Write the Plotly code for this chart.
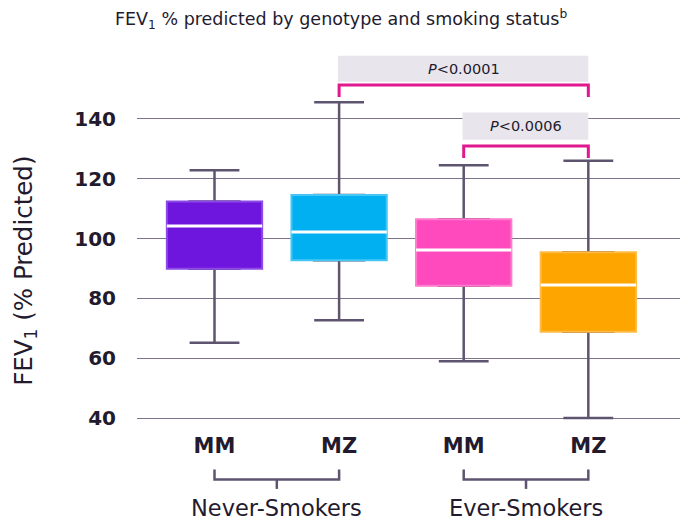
import plotly.graph_objects as go

# ---- data ----
positions = [0, 1, 2, 3]
genotypes = ["MM", "MZ", "MM", "MZ"]
groups = ["Never-Smokers", "Ever-Smokers"]
q1 = [89.9, 92.7, 84.2, 68.8]
median = [104.2, 102.2, 96.2, 84.5]
q3 = [112.4, 114.5, 106.4, 95.4]
lowerfence = [65.2, 72.7, 59.0, 40.0]
upperfence = [122.8, 145.5, 124.5, 126.0]
box_colors = ["#6F16DE", "#00B0F0", "#FF4ABE", "#FFA500"]
edge_colors = ["#8C4AE6", "#47C6F5", "#FF7ACD", "#FFBB47"]
y_ticks = [40, 60, 80, 100, 120, 140]
comparisons = [  # (from, to, label, bracket line, bracket end, box bottom, box top)
    (1, 3, "<i>P</i><0.0001", 151.3, 147.3, 152.4, 161.1),
    (2, 3, "<i>P</i><0.0006", 130.9, 126.9, 133.0, 142.1),
]

DARK = "#231A2E"
WHISK = "#5F5470"
FONT = "DejaVu Sans"

fig = go.Figure()

# whiskers + caps
fig.add_trace(go.Box(
    x=positions, q1=q1, median=median, q3=q3,
    lowerfence=lowerfence, upperfence=upperfence,
    width=0.40, whiskerwidth=1,
    line=dict(color=WHISK, width=2.5), fillcolor=WHISK,
    boxpoints=False, hoverinfo="skip", showlegend=False))

# coloured boxes
for i, p in enumerate(positions):
    fig.add_trace(go.Box(
        x=[p], q1=[q1[i]], median=[median[i]], q3=[q3[i]],
        lowerfence=[q1[i]], upperfence=[q3[i]],
        width=0.765, whiskerwidth=0,
        line=dict(color=edge_colors[i], width=2), fillcolor=box_colors[i],
        boxpoints=False, hoverinfo="skip", showlegend=False))

# white medians
fig.add_trace(go.Box(
    x=positions, q1=median, median=median, q3=median,
    lowerfence=median, upperfence=median,
    width=0.765, whiskerwidth=0,
    line=dict(color="white", width=3), fillcolor="white",
    boxpoints=False, hoverinfo="skip", showlegend=False))

shapes = []
annotations = []
for a, b, label, yl, ye, r0, r1 in comparisons:
    shapes.append(dict(type="rect", xref="x", yref="y", x0=a - 0.01, x1=b, y0=r0, y1=r1,
                       fillcolor="#E8E6EC", line=dict(width=0), layer="above"))
    shapes.append(dict(type="path", xref="x", yref="y",
                       path=f"M {a},{ye} L {a},{yl} L {b},{yl} L {b},{ye}",
                       line=dict(color="#E0178D", width=3)))
    annotations.append(dict(x=(a + b) / 2, y=(r0 + r1) / 2, xref="x", yref="y",
                            text=label, showarrow=False,
                            font=dict(family=FONT, size=14.5, color=DARK)))

# group brackets under the axis
for gi, g in enumerate(groups):
    a, b = positions[2 * gi], positions[2 * gi + 1]
    shapes.append(dict(type="path", xref="x", yref="paper",
                       path=f"M {a},-0.0955 L {a},-0.1215 L {b},-0.1215 L {b},-0.0955",
                       line=dict(color=WHISK, width=2.5)))
    shapes.append(dict(type="line", xref="x", yref="paper", x0=(a + b) / 2, x1=(a + b) / 2,
                       y0=-0.1215, y1=-0.146, line=dict(color=WHISK, width=2.5)))
    annotations.append(dict(x=(a + b) / 2, y=-0.197, xref="x", yref="paper",
                            text=g, showarrow=False, yanchor="middle",
                            font=dict(family=FONT, size=22.5, color=DARK)))

# y-axis title
annotations.append(dict(x=(25 - 137) / 551, y=0.4236, xref="paper", yref="paper",
                        text="FEV<sub>1</sub> (% Predicted)", textangle=-90,
                        showarrow=False, xanchor="center", yanchor="middle",
                        font=dict(family=FONT, size=24.5, color=DARK)))
# chart title
annotations.append(dict(x=(341 - 137) / 551, y=(433.4 - 19) / 383.4,
                        xref="paper", yref="paper",
                        text="FEV<sub>1</sub> % predicted by genotype and smoking status<sup>b</sup>",
                        showarrow=False, xanchor="center", yanchor="middle",
                        font=dict(family=FONT, size=17.5, color=DARK)))

# page body has an 8px margin: figure is 680x518 and offsets compensate
fig.update_layout(
    width=680, height=518,
    margin=dict(l=129, r=0, t=42, b=92.6),
    paper_bgcolor="white", plot_bgcolor="white",
    boxmode="overlay",
    showlegend=False,
    shapes=shapes, annotations=annotations,
    xaxis=dict(range=[-0.622, 3.80], tickvals=positions, ticktext=genotypes,
               showgrid=False, zeroline=False, showline=False, ticks="",
               ticklabelstandoff=-2,
               tickfont=dict(family=FONT, size=21, color=DARK, weight="bold")),
    yaxis=dict(range=[35, 163], tickvals=y_ticks, showgrid=True,
               gridcolor="#7D7489", gridwidth=1.2, zeroline=False, showline=False,
               ticks="", ticklabelstandoff=20,
               tickfont=dict(family=FONT, size=20, color=DARK, weight="bold")),
)

fig.write_html("out.html")
